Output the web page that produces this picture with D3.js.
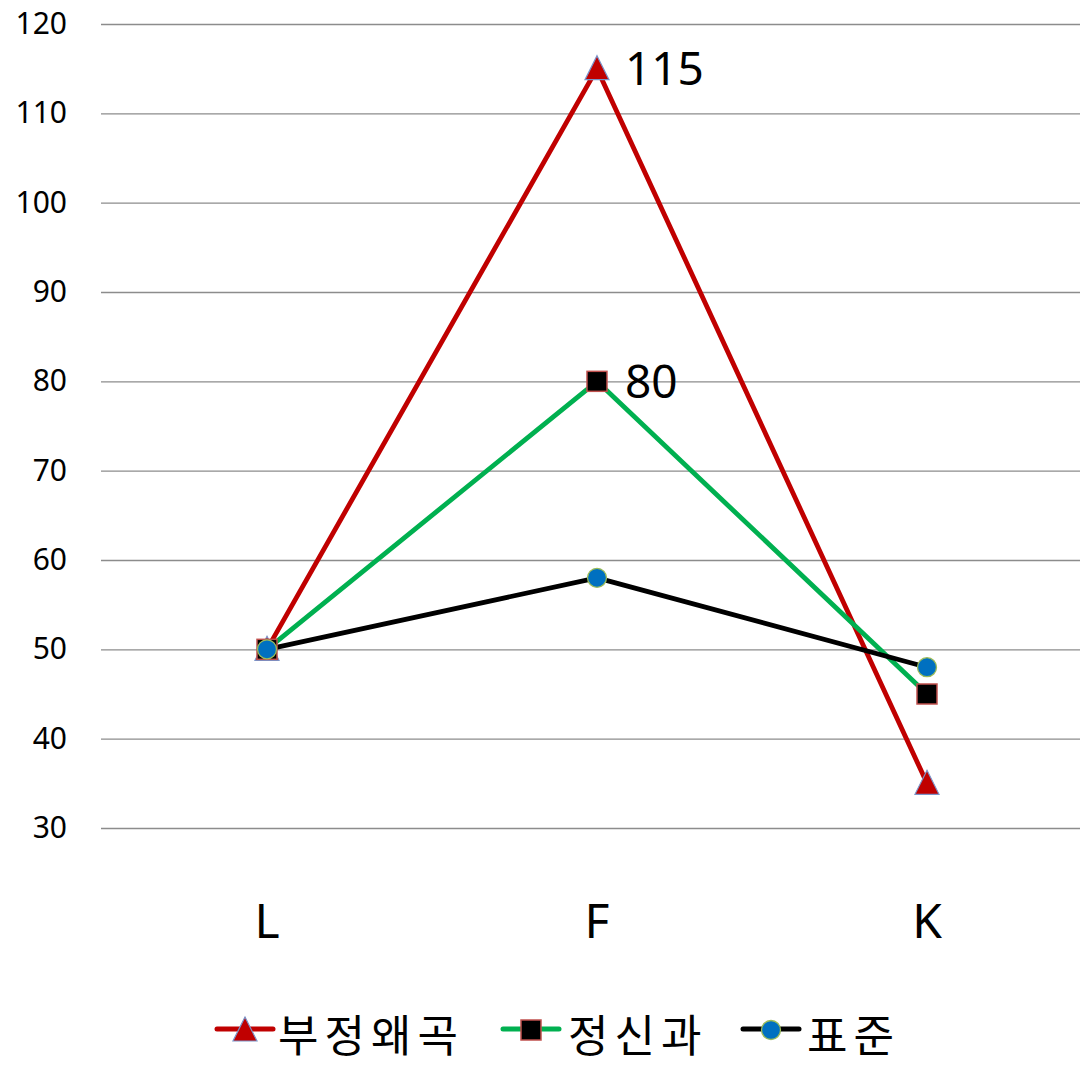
<!DOCTYPE html>
<html>
<head>
<meta charset="utf-8">
<script src="https://cdn.jsdelivr.net/npm/d3@7"></script>
<style>
html,body{margin:0;padding:0;background:#fff;}
svg{display:block;}
text{font-family:"Noto Sans CJK KR","Noto Sans",sans-serif;fill:#000;}
</style>
</head>
<body>
<div id="chart"></div>
<script>
const categories = ["L", "F", "K"];
const seriesNames = ["부정왜곡", "정신과", "표준"];
const distortion = [50, 115, 35];
const psychiatric = [50, 80, 45];
const standard = [50, 58, 48];
const yTicks = [30, 40, 50, 60, 70, 80, 90, 100, 110, 120];
const labelled = [{series: 0, index: 1}, {series: 1, index: 1}];

const W = 1080, H = 1066;
const svg = d3.select("#chart").append("svg").attr("width", W).attr("height", H);

const x = d3.scalePoint().domain(categories).range([102, 1092]).padding(0.5);
const y = d3.scaleLinear().domain([30, 120]).range([828, 24]);

const series = [
  {name: seriesNames[0], values: distortion, color: "#C00000", marker: "triangle"},
  {name: seriesNames[1], values: psychiatric, color: "#00B050", marker: "square"},
  {name: seriesNames[2], values: standard, color: "#000000", marker: "circle"}
];

// y axis with gridlines
const yAxis = d3.axisLeft(y).tickValues(yTicks).tickSize(-(1092 - 101)).tickPadding(34).tickFormat(d3.format("d"));
const ga = svg.append("g").attr("transform", "translate(101,0)").call(yAxis);
ga.select(".domain").remove();
ga.selectAll(".tick line").attr("stroke", "#8c8c8c").attr("stroke-width", 1.3);
ga.selectAll(".tick text").attr("font-size", 30).attr("fill", "#000")
  .style("font-family", "'Noto Sans','DejaVu Sans',sans-serif");

// x labels
svg.append("g").selectAll("text").data(categories).join("text")
  .attr("x", d => x(d)).attr("y", 938).attr("text-anchor", "middle")
  .attr("font-size", 48).style("font-family", "'Noto Sans','DejaVu Sans',sans-serif")
  .text(d => d);

function drawMarker(g, type, cx, cy) {
  if (type === "triangle") {
    g.append("path")
      .attr("d", `M${cx},${cy - 13} L${cx + 12},${cy + 11} L${cx - 12},${cy + 11} Z`)
      .attr("fill", "#C00000").attr("stroke", "#7B93C8").attr("stroke-width", 1.2);
  } else if (type === "square") {
    g.append("rect").attr("x", cx - 10).attr("y", cy - 10).attr("width", 20).attr("height", 20)
      .attr("fill", "#000").attr("stroke", "#C0504D").attr("stroke-width", 1.5);
  } else {
    g.append("circle").attr("cx", cx).attr("cy", cy).attr("r", 9.5)
      .attr("fill", "#0070C0").attr("stroke", "#9BBB59").attr("stroke-width", 1.3);
  }
}

const line = d3.line().x((d, i) => x(categories[i])).y(d => y(d));

series.forEach(s => {
  svg.append("path").datum(s.values).attr("d", line)
    .attr("fill", "none").attr("stroke", s.color).attr("stroke-width", 4.8)
    .attr("stroke-linejoin", "round");
});
series.forEach(s => {
  const g = svg.append("g");
  s.values.forEach((v, i) => drawMarker(g, s.marker, x(categories[i]), y(v)));
});

// data labels
labelled.forEach(l => {
  const s = series[l.series];
  const v = s.values[l.index];
  svg.append("text")
    .attr("x", x(categories[l.index]) + 28).attr("y", y(v)).attr("dy", "0.36em")
    .attr("font-size", 46).style("font-family", "'Noto Sans','DejaVu Sans',sans-serif")
    .text(v);
});

// legend
const legendX = [217, 503, 743];
const textX = [278, 568, 807];
series.forEach((s, i) => {
  const g = svg.append("g");
  g.append("line").attr("x1", legendX[i]).attr("x2", legendX[i] + 56)
    .attr("y1", 1029).attr("y2", 1029).attr("stroke", s.color).attr("stroke-width", 5)
    .attr("stroke-linecap", "round");
  drawMarker(g, s.marker, legendX[i] + 28, 1030);
  g.append("text").attr("x", textX[i]).attr("y", 1052).attr("font-size", 44)
    .attr("letter-spacing", 6).text(s.name);
});
</script>
</body>
</html>
